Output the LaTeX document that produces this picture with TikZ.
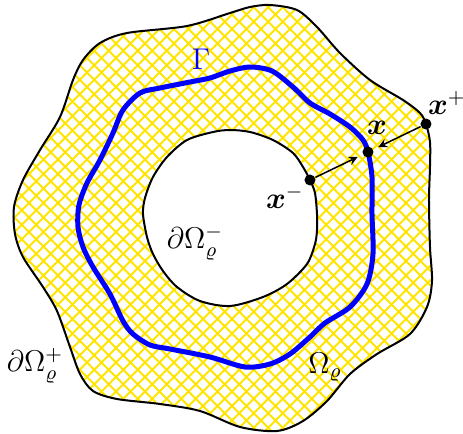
\documentclass[tikz,border=0pt]{standalone}
\usepackage{amsmath,amssymb,bm}
\definecolor{hatchyellow}{RGB}{255,228,0}
\begin{document}
\begin{tikzpicture}[x=0.4pt,y=-0.4pt,
  bnd/.style={line width=0.8pt, black},
  gam/.style={line width=2pt, blue},
  hatch/.style={line width=0.8pt, hatchyellow},
  pt/.style={circle, fill=black, inner sep=0pt, minimum size=4.4pt},
  arr/.style={->, >=stealth, line width=0.6pt, shorten >=2.2pt},
  lbl/.style={inner sep=0pt, font=\fontsize{11.5}{14}\selectfont}]
\useasboundingbox (0,0) rectangle (463,434);
% hatching inside outer curve
\begin{scope}
\clip plot[smooth cycle] coordinates {(270,5) (297,10) (317,27) (340,53) (370,80) (403,100) (420,113) (426,124) (430,142) (430,167) (429,200) (430,247) (432,281) (427,307) (410,334) (377,354) (350,374) (327,401) (303,421) (277,431) (240,427) (200,411) (160,404) (117,399) (93,391) (80,374) (70,347) (57,311) (43,287) (23,257) (15,234) (14,207) (23,180) (40,150) (60,117) (73,80) (83,60) (100,43) (127,33) (187,26) (230,13) (250,7)};
\foreach \i in {-464,-449.5,...,928} {
  \draw[hatch] (\i,0) -- ++(434,434);
  \draw[hatch] (\i,0) -- ++(-434,434);
}
\end{scope}
% inner hole
\fill[white] plot[smooth cycle] coordinates {(230,130) (250,132) (273,140) (293,153) (303,167) (310,180) (315,193) (317,214) (317,230) (315,244) (307,264) (287,284) (263,297) (230,306) (200,301) (177,287) (163,271) (153,254) (147,237) (143,214) (145,198) (153,177) (167,157) (187,140) (213,132)};
\draw[bnd] plot[smooth cycle] coordinates {(230,130) (250,132) (273,140) (293,153) (303,167) (310,180) (315,193) (317,214) (317,230) (315,244) (307,264) (287,284) (263,297) (230,306) (200,301) (177,287) (163,271) (153,254) (147,237) (143,214) (145,198) (153,177) (167,157) (187,140) (213,132)};
% outer boundary
\draw[bnd] plot[smooth cycle] coordinates {(270,5) (297,10) (317,27) (340,53) (370,80) (403,100) (420,113) (426,124) (430,142) (430,167) (429,200) (430,247) (432,281) (427,307) (410,334) (377,354) (350,374) (327,401) (303,421) (277,431) (240,427) (200,411) (160,404) (117,399) (93,391) (80,374) (70,347) (57,311) (43,287) (23,257) (15,234) (14,207) (23,180) (40,150) (60,117) (73,80) (83,60) (100,43) (127,33) (187,26) (230,13) (250,7)};
% Gamma
\draw[gam] plot[smooth cycle] coordinates {(230,71) (250,67) (272,71) (293,87) (310,103) (330,114) (350,127) (363,140) (368,152) (372,177) (372,214) (373,254) (367,284) (350,307) (325,323) (310,337) (290,354) (270,364) (245,367) (210,357) (170,349) (150,345) (133,334) (123,321) (110,294) (93,267) (83,247) (78,227) (79,205) (87,183) (100,160) (113,133) (123,110) (140,93) (160,88) (190,82) (210,78)};
% points
\node[pt] (xm) at (310,180) {};
\node[pt] (x) at (368,152) {};
\node[pt] (xp) at (426,124) {};
\draw[arr] (xm) -- (x);
\draw[arr] (xp) -- (x);
% labels
\node[lbl] (lxp) at (447,103) {$\bm{x}^{+}$};
\node[lbl] (lx) at (377,128) {$\bm{x}$};
\node[lbl] (lxm) at (285,197) {$\bm{x}^{-}$};
\node[lbl, text=blue] (lg) at (201,59) {$\Gamma$};
\node[lbl] (ldm) at (195,243) {$\partial\Omega_\varrho^-$};
\node[lbl] (ldp) at (35,366) {$\partial\Omega_\varrho^+$};
\node[lbl] (lo) at (325,367) {$\Omega_\varrho$};
\end{tikzpicture}
\end{document}
